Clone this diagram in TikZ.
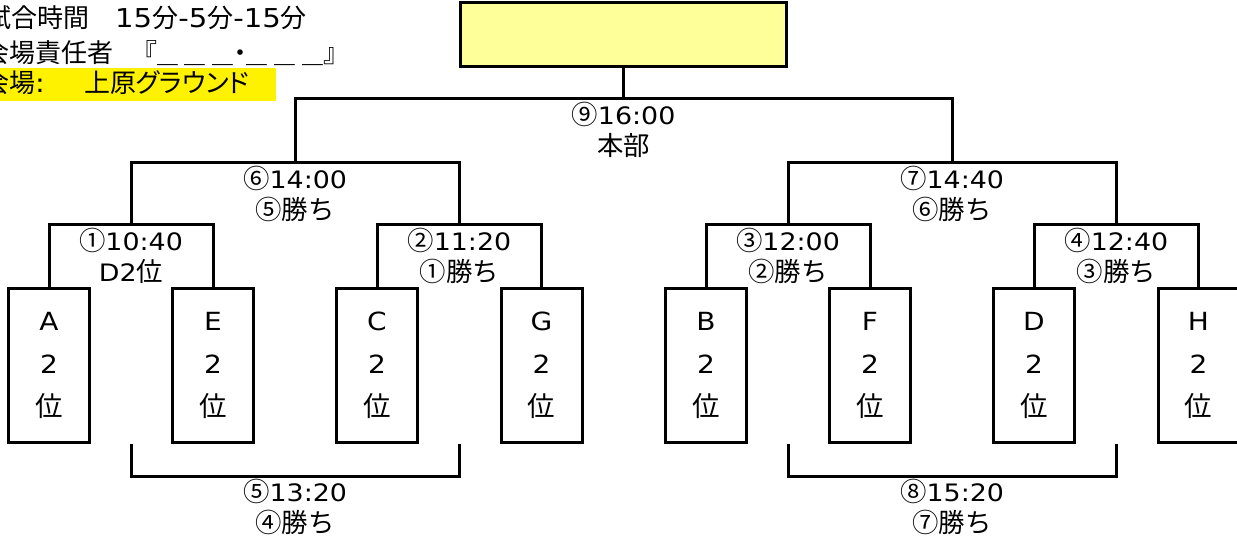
\documentclass[tikz,border=0pt]{standalone}
\usepackage{fontspec}
\setmainfont{DejaVu Sans}[FakeStretch=1.12]
\newfontfamily\jp{Noto Sans CJK JP}[Scale=1.1]
\newfontfamily\hjp{Noto Sans CJK JP}
\newfontfamily\hjpp{Noto Sans CJK JP}[RawFeature=+palt]
\usepackage{xcolor}
\definecolor{champfill}{HTML}{FFFF99}
\newcommand{\matchstrut}{\rule{0pt}{25pt}}
\newcommand{\blank}{\scalebox{0.8}[1]{\hjp ＿}}
\tikzset{%
	team/.style={
		draw,
		line width=3pt,
		minimum width=81pt,
		minimum height=154pt,
		inner sep=0pt,
		align=center,
		font=\fontsize{25}{43}\selectfont
	},
	match/.style={
		anchor=north,
		inner sep=0pt,
		align=center,
		font=\fontsize{24}{31}\selectfont
	},
	head/.style={
		anchor=base west,
		inner sep=0pt,
		font=\fontsize{26}{30}\selectfont
	},
	bracket/.style={line width=3pt},
}

\begin{document}
\begin{tikzpicture}[x=1pt,y=-1pt]
			\useasboundingbox (0,0) rectangle (1237,537);

			% Draw the header texts
			\fill[yellow] (0,68) rectangle (276,101);
			\node[head] (time) at (-15,28) {{\hjp 試合時間　}15{\hjp 分}-5{\hjp 分}-15{\hjp 分}};
			\node[head] (chief) at (-17,63) {{\hjp 会場責任者}\hspace{18pt}{\hjp 『}\blank\hspace{7pt}\blank\hspace{7pt}\blank{\hjpp ・}\blank\hspace{7pt}\blank\hspace{7pt}\blank{\hjp 』}};
			\node[head] (venue) at (-17,93) {{\hjp 会場}:\hspace{39pt}{\hjpp 上原グラウンド}};

			% Draw the winner box
			\node[draw, line width=3pt, fill=champfill, minimum width=326pt, minimum height=64pt] (champ) at (623.5,34.5) {};

			% Draw the team boxes
			\node[team] (A) at (49,365.5) {A\\2\\{\jp 位}};
			\node[team] (E) at (213,365.5) {E\\2\\{\jp 位}};
			\node[team] (C) at (377,365.5) {C\\2\\{\jp 位}};
			\node[team] (G) at (541.5,365.5) {G\\2\\{\jp 位}};
			\node[team] (B) at (706,365.5) {B\\2\\{\jp 位}};
			\node[team] (F) at (870,365.5) {F\\2\\{\jp 位}};
			\node[team] (D) at (1034,365.5) {D\\2\\{\jp 位}};
			\node[team] (H) at (1198.5,365.5) {H\\2\\{\jp 位}};

			% Match points
			\coordinate (m1) at (131,225);
			\coordinate (m2) at (459.3,225);
			\coordinate (m3) at (788,225);
			\coordinate (m4) at (1116.3,225);
			\coordinate (m6) at (295.1,163);
			\coordinate (m7) at (952.1,163);
			\coordinate (m9) at (623.5,99);
			\coordinate (m5) at (295.1,476);
			\coordinate (m8) at (952.1,476);

			% Draw the first round
			\draw[bracket] (A.north) |- (m1) -| (E.north);
			\draw[bracket] (C.north) |- (m2) -| (G.north);
			\draw[bracket] (B.north) |- (m3) -| (F.north);
			\draw[bracket] (D.north) |- (m4) -| (H.north);

			% Draw the second round and the final
			\draw[bracket] (m1) |- (m6) -| (m2);
			\draw[bracket] (m3) |- (m7) -| (m4);
			\draw[bracket] (m6) |- (m9) -| (m7);
			\draw[bracket] (m9) -- (champ.south);

			% Draw the losers' matches
			\draw[bracket] (m1 |- A.south) |- (m5) -| (m2 |- A.south);
			\draw[bracket] (m3 |- A.south) |- (m8) -| (m4 |- A.south);

			% Match labels
			\node[match] (l1) at (m1) {\matchstrut{\jp ①}10:40\\D2{\jp 位}};
			\node[match] (l2) at (m2) {\matchstrut{\jp ②}11:20\\{\jp ①勝ち}};
			\node[match] (l3) at (m3) {\matchstrut{\jp ③}12:00\\{\jp ②勝ち}};
			\node[match] (l4) at (m4) {\matchstrut{\jp ④}12:40\\{\jp ③勝ち}};
			\node[match] (l6) at (m6) {\matchstrut{\jp ⑥}14:00\\{\jp ⑤勝ち}};
			\node[match] (l7) at (m7) {\matchstrut{\jp ⑦}14:40\\{\jp ⑥勝ち}};
			\node[match] (l9) at (m9) {\matchstrut{\jp ⑨}16:00\\{\jp 本部}};
			\node[match] (l5) at (m5) {\matchstrut{\jp ⑤}13:20\\{\jp ④勝ち}};
			\node[match] (l8) at (m8) {\matchstrut{\jp ⑧}15:20\\{\jp ⑦勝ち}};

		\end{tikzpicture}
\end{document}
